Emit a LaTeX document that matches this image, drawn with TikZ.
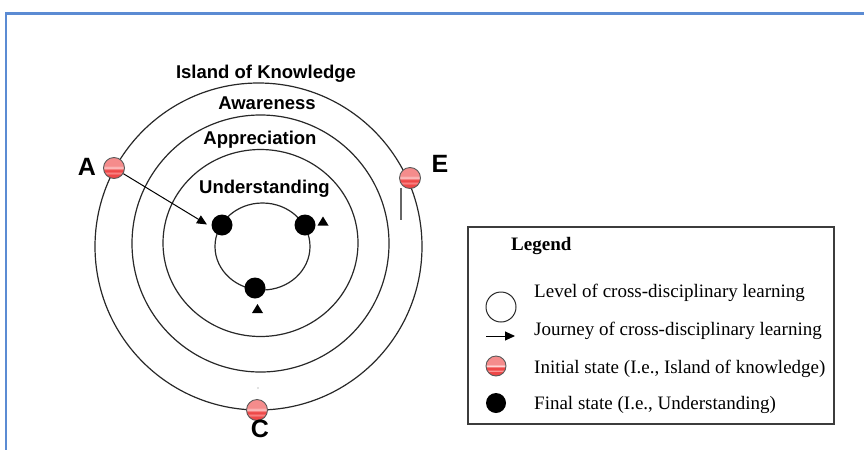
\documentclass[tikz,border=0pt]{standalone}
\usepackage{fontspec}
\setmainfont{Liberation Serif}
\newfontfamily\labelsans{Liberation Sans}
\usetikzlibrary{arrows.meta,shapes.geometric}

\definecolor{framebl}{RGB}{91,139,211}
\definecolor{ringgray}{RGB}{40,40,40}
\definecolor{ballred}{RGB}{238,72,72}
\definecolor{ballpink}{RGB}{245,140,140}
\definecolor{ballhi}{RGB}{255,212,212}
\definecolor{ballhitwo}{RGB}{255,165,165}
\definecolor{boxgray}{RGB}{60,60,60}

% striped red ball (initial state)
\pgfdeclareverticalshading{redball}{100bp}{color(0bp)=(ballred); color(35bp)=(ballred); color(38bp)=(ballhitwo); color(41bp)=(ballred); color(46bp)=(ballred); color(50bp)=(ballhi); color(55bp)=(ballpink); color(100bp)=(ballpink)}

\tikzset{
  ring/.style={ellipse, draw=ringgray, line width=1.2pt, inner sep=0pt, outer sep=0pt},
  startball/.style={circle, draw=black!65, line width=0.9pt, shade, shading=redball,
    minimum size=21pt, inner sep=0pt},
  endball/.style={circle, fill=black, minimum size=21pt, inner sep=0pt},
  levellabel/.style={font=\labelsans\bfseries\fontsize{18.5}{22}\selectfont, anchor=base, inner sep=0pt},
  pointlabel/.style={font=\labelsans\bfseries\fontsize{25}{30}\selectfont, anchor=base, inner sep=0pt},
  legendtext/.style={font=\fontsize{19}{23}\selectfont, anchor=base west, inner sep=0pt},
  journey/.style={black, line width=1pt, -{Triangle[length=10pt,width=9pt]}},
  headtri/.style={fill=black},
}

\begin{document}
\begin{tikzpicture}[x=1pt,y=-1pt]
\useasboundingbox (0,0) rectangle (864,450);

% page frame
\draw[framebl, line width=2.2pt] (864,13.5) -- (6,13.5) -- (6,450);

% levels of cross-disciplinary learning
\node[ring, minimum width=327pt, minimum height=327pt] (island) at (258.5,246.5) {};
\node[ring, minimum width=257pt, minimum height=257pt] (aware) at (260.5,243.5) {};
\node[ring, minimum width=195pt, minimum height=187pt] (apprec) at (260.5,243) {};
\node[ring, minimum width=95pt, minimum height=87pt] (under) at (262.5,246.5) {};

\node[levellabel] (tIsland) at (266,78) {Island of Knowledge};
\node[levellabel] (tAware) at (267,109) {Awareness};
\node[levellabel] (tApprec) at (260,144) {Appreciation};
\node[levellabel] (tUnder) at (264.5,193) {Understanding};

% final states
\node[endball] (L) at (222,225) {};
\node[endball] (R) at (305,225) {};
\node[endball] (B) at (255,288) {};

% initial states
\node[startball] (A) at (114,168) {};
\node[startball] (E) at (410,178) {};
\node[startball] (C) at (257,410) {};

\node[pointlabel] (tA) at (87,175) {A};
\node[pointlabel] (tE) at (440,172) {E};
\node[pointlabel] (tC) at (260,437) {C};

% journeys
\coordinate (Ltip) at (207,224.5);
\draw[journey] (A) -- (Ltip);
\fill[headtri] (323,216.5) -- (328.5,225.5) -- (317.5,225.5) -- cycle;
\fill[headtri] (257.5,304) -- (263,313) -- (252,313) -- cycle;
\coordinate (Etop) at (401,188);
\coordinate (Ebot) at (401,220);
\draw[black!60, line width=1.6pt] (Etop) -- (Ebot);
\fill[black!50] (258,388) circle (0.6pt);

% legend
\node[draw=boxgray, line width=1.2pt, minimum width=366pt, minimum height=197pt,
  inner sep=0pt] (legend) at (651,325.5) {};
\node[legendtext, font=\fontsize{19}{23}\selectfont\bfseries] (lgTitle) at (511,250) {Legend};

\node[circle, draw=ringgray, line width=1pt, minimum size=30pt, inner sep=0pt] (lgRing) at (501,307) {};
\node[legendtext] (lgRingText) at (534,297) {Level of cross-disciplinary learning};

\coordinate (lgArrA) at (486,336);
\coordinate (lgArrB) at (515,336);
\draw[journey] (lgArrA) -- (lgArrB);
\node[legendtext] (lgArrText) at (534,335) {Journey of cross-disciplinary learning};

\node[startball, minimum size=20pt] (lgStart) at (496,366) {};
\node[legendtext] (lgStartText) at (534,373) {Initial state (I.e., Island of knowledge)};

\node[endball, minimum size=20pt] (lgEnd) at (496,403) {};
\node[legendtext] (lgEndText) at (534,409) {Final state (I.e., Understanding)};
\end{tikzpicture}
\end{document}
